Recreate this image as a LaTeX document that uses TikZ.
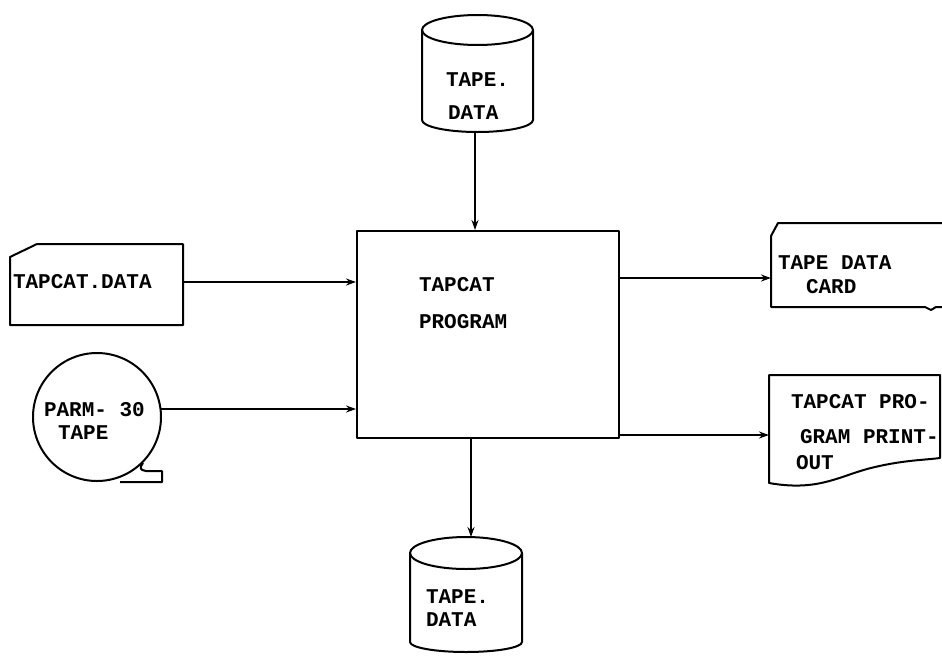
\documentclass[tikz,border=0pt]{standalone}
\usepackage{fontspec}
\setmainfont{Liberation Mono}
\usetikzlibrary{arrows.meta}
\begin{document}
\begin{tikzpicture}[x=1pt,y=-1pt,
  line width=2pt, line join=round,
  txt/.style={font=\fontsize{21}{23}\selectfont\bfseries, inner sep=0pt, anchor=west},
  flow/.style={-{Stealth[length=10pt,width=7pt]}, line width=1.8pt},
  progbox/.style={draw, minimum width=262pt, minimum height=207pt, inner sep=0pt}]
\useasboundingbox (0,0) rectangle (942,659);

% main program box
\node[progbox] (prog) at (488,334.5) {};
\node[txt] (progtxt1) at (418,285) {TAPCAT};
\node[txt] (progtxt2) at (418,322) {PROGRAM};

% top cylinder
\draw (477.5,30) ellipse [x radius=55.5pt, y radius=15pt];
\draw (422,30) -- (422,120) arc[start angle=180, end angle=360, x radius=55.5pt, y radius=12pt] -- (533,30);
\node[txt] (toptxt1) at (445,80) {TAPE.};
\node[txt] (toptxt2) at (447,113) {DATA};
\coordinate (topout) at (475,132);

% bottom cylinder
\draw (466,553) ellipse [x radius=56pt, y radius=16pt];
\draw (410,553) -- (410,642) arc[start angle=180, end angle=360, x radius=56pt, y radius=10pt] -- (522,553);
\node[txt] (bottxt1) at (425,597) {TAPE.};
\node[txt] (bottxt2) at (425,620) {DATA};
\coordinate (botin) at (471,537);

% TAPCAT.DATA card
\draw (10,257) -- (37,244) -- (183,244) -- (183,325) -- (10,325) -- cycle;
\node[txt] (cardtxt) at (12,282) {TAPCAT.DATA};
\coordinate (cardout) at (183,282);

% PARM-30 tape
\draw (97,417) circle [radius=64pt];
\draw (143,463) .. controls (139,468) and (140,470) .. (146,471) -- (162,471) -- (162,482) -- (120,482);
\node[txt] (tapetxt1) at (43,410) {PARM- 30};
\node[txt] (tapetxt2) at (57,433) {TAPE};
\coordinate (tapeout) at (161,409);

% TAPE DATA CARD (right)
\draw (945,223) -- (778,223) -- (771,236) -- (771,307) -- (925,307) -- (931,310) -- (936,307) -- (945,307);
\node[txt] (rcardtxt1) at (777,263) {TAPE DATA};
\node[txt] (rcardtxt2) at (805,287) {CARD};
\coordinate (rcardin) at (771,278);

% printout document
\draw (940,375) -- (769,375) -- (769,483) .. controls (820,492) and (840,475) .. (875,467) .. controls (905,460) and (925,460) .. (940,458) -- cycle;
\node[txt] (prttxt1) at (790,402) {TAPCAT PRO-};
\node[txt] (prttxt2) at (799,437) {GRAM PRINT-};
\node[txt] (prttxt3) at (795,463) {OUT};
\coordinate (prtin) at (769,435);

% connectors
\draw[flow] (topout) -- (prog.north -| topout);
\draw[flow] (cardout) -- (prog.west |- cardout);
\draw[flow] (tapeout) -- (prog.west |- tapeout);
\draw[flow] (prog.east |- rcardin) -- (rcardin);
\draw[flow] (prog.east |- prtin) -- (prtin);
\draw[flow] (prog.south -| botin) -- (botin);
\end{tikzpicture}
\end{document}
